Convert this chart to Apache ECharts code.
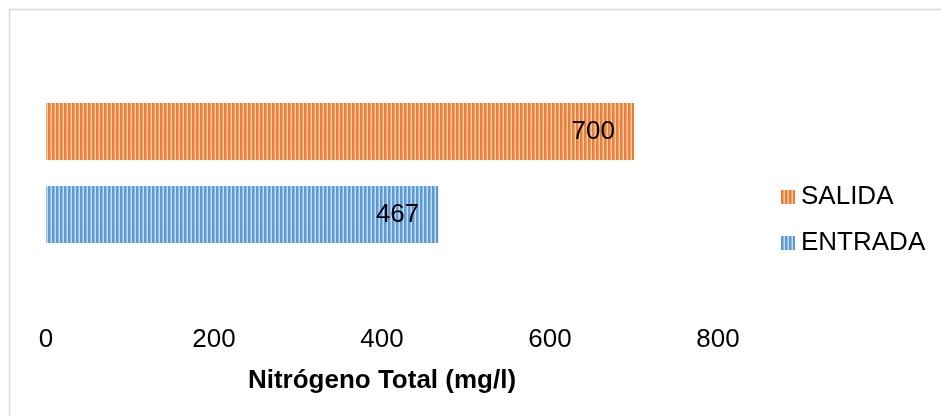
<!DOCTYPE html>
<html>
<head>
<meta charset="utf-8">
<script src="https://cdn.jsdelivr.net/npm/echarts@6/dist/echarts.min.js"></script>
<style>
  html, body { margin: 0; padding: 0; background: #fff; }
  #chart { width: 941px; height: 416px; }
</style>
</head>
<body>
<div id="chart"></div>
<script>
// Nitrógeno total a la salida y a la entrada
const categories = ['Nitrógeno Total'];
const seriesNames = ['SALIDA', 'ENTRADA'];
const salidaValues = [700];
const entradaValues = [467];
const xTicks = [0, 200, 400, 600, 800];

// Vertical striped fill used by the bars and legend swatches
function stripes(dark, light) {
  const c = document.createElement('canvas');
  c.width = 4; c.height = 4;
  const g = c.getContext('2d');
  g.fillStyle = light; g.fillRect(0, 0, 4, 4);
  g.fillStyle = dark; g.fillRect(0, 0, 2, 4);
  g.globalAlpha = 0.5; g.fillRect(2, 0, 1, 4);
  return { image: c, repeat: 'repeat' };
}
const blueFill = stripes('#5b9bd5', '#c6dcf1');
const orangeFill = stripes('#ed7d31', '#f9cdae');

const font = 'Liberation Sans, Arial, sans-serif';
const chart = echarts.init(document.getElementById('chart'));

const barLabel = {
  show: true, position: 'insideRight', distance: 19,
  fontFamily: font, fontSize: 26, color: '#000'
};

chart.setOption({
  animation: false,
  backgroundColor: '#fff',
  graphic: [{
    type: 'rect',
    shape: { x: 9.5, y: 9.5, width: 960, height: 440 },
    style: { fill: 'none', stroke: '#d9d9d9', lineWidth: 1.5 },
    silent: true
  }],
  legend: {
    orient: 'vertical',
    left: 781,
    top: 184,
    padding: 0,
    data: seriesNames,
    icon: 'rect',
    itemWidth: 14,
    itemHeight: 14,
    itemGap: 20,
    textStyle: { fontFamily: font, fontSize: 26, color: '#000', padding: [0, 0, 0, 1] }
  },
  grid: { left: 46, right: 223, top: 40, bottom: 110, containLabel: false },
  xAxis: {
    type: 'value',
    min: xTicks[0],
    max: xTicks[xTicks.length - 1],
    interval: 200,
    name: 'Nitrógeno Total (mg/l)',
    nameLocation: 'middle',
    nameGap: 62,
    nameTextStyle: { fontFamily: font, fontSize: 26, fontWeight: 'bold', color: '#000' },
    axisLine: { show: false },
    axisTick: { show: false },
    splitLine: { show: false },
    axisLabel: { fontFamily: font, fontSize: 26, color: '#000', margin: 21 }
  },
  yAxis: {
    type: 'category',
    data: categories,
    show: false
  },
  series: [
    {
      name: seriesNames[0],
      type: 'bar',
      data: salidaValues,
      barWidth: 57,
      barGap: '46%',
      itemStyle: { color: orangeFill },
      label: barLabel
    },
    {
      name: seriesNames[1],
      type: 'bar',
      data: entradaValues,
      barWidth: 57,
      barGap: '46%',
      itemStyle: { color: blueFill },
      label: barLabel
    }
  ]
});
</script>
</body>
</html>
